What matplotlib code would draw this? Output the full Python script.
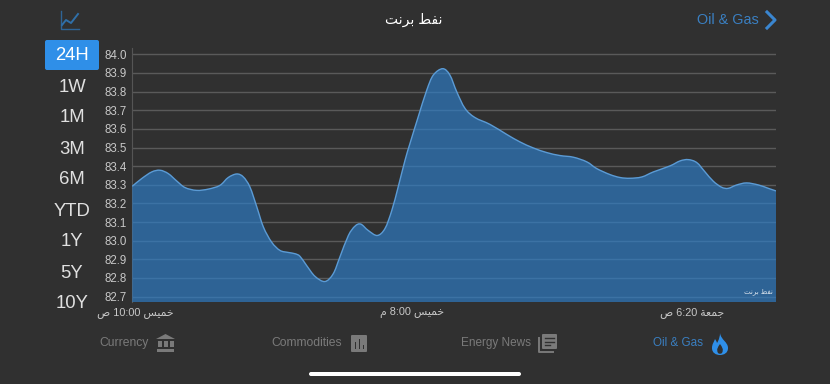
import matplotlib
matplotlib.use('Agg')
import matplotlib.pyplot as plt
from matplotlib.patches import FancyBboxPatch, PathPatch, Polygon, Rectangle
from matplotlib.path import Path

FONT = ['Liberation Sans', 'DejaVu Sans']
plt.rcParams['font.family'] = FONT

# Arabic is kept in shaped presentation forms, in visual order (matplotlib has no shaping)
title = '\ufe96\ufee7\ufeae\ufe91 \ufec2\ufed4\ufee7'
khamis = '\ufeb2\ufef4\ufee4\ufea7'
jumaa = '\ufe94\ufecc\ufee4\ufe9f'
sad = '\ufeb9'
mim = '\ufee1'

# hours since Thursday 10:00
hours = [-0.10, 0.24, 0.61, 0.91, 1.21, 1.52, 1.82, 2.24, 2.67, 3.09, 3.39, 3.70, 3.94, 4.18,
         4.43, 4.67, 4.97, 5.27, 5.57, 5.82, 6.00, 6.24, 6.55, 6.91, 7.21, 7.45, 7.76, 8.00,
         8.21, 8.48, 8.81, 9.09, 9.34, 9.57, 9.82, 10.00, 10.30, 10.61, 10.85, 11.19, 11.45,
         11.70, 12.00, 12.36, 12.91, 13.52, 14.00, 14.48, 14.97, 15.45, 15.94, 16.43, 16.79,
         17.27, 17.64, 18.00, 18.43, 18.85, 19.45, 19.82, 20.12, 20.43, 20.73, 21.03, 21.33,
         21.57, 21.88, 22.24, 22.67, 23.03, 23.31]
prices = [83.292, 83.333, 83.369, 83.378, 83.360, 83.320, 83.285, 83.270, 83.277, 83.297,
          83.339, 83.358, 83.342, 83.288, 83.181, 83.073, 82.992, 82.948, 82.937, 82.930,
          82.916, 82.867, 82.808, 82.781, 82.823, 82.912, 83.028, 83.078, 83.089, 83.055,
          83.028, 83.065, 83.163, 83.288, 83.432, 83.522, 83.665, 83.808, 83.889, 83.923,
          83.889, 83.799, 83.710, 83.661, 83.624, 83.570, 83.530, 83.498, 83.473, 83.457,
          83.448, 83.423, 83.387, 83.355, 83.339, 83.335, 83.342, 83.369, 83.401, 83.428,
          83.435, 83.419, 83.369, 83.319, 83.287, 83.281, 83.299, 83.310, 83.299, 83.281,
          83.267]

y_ticks = [82.7, 82.8, 82.9, 83.0, 83.1, 83.2, 83.3, 83.4, 83.5, 83.6, 83.7, 83.8, 83.9, 84.0]
x_ticks = [0, 10.07, 20.25]
x_labels = [sad + ' 10:00 ' + khamis, mim + ' 8:00 ' + khamis, sad + ' 6:20 ' + jumaa]
ranges = ['24H', '1W', '1M', '3M', '6M', 'YTD', '1Y', '5Y', '10Y']
tabs = ['Currency', 'Commodities', 'Energy News', 'Oil & Gas']

BG = '#303030'
W, H = 830, 384
Y_BOTTOM = 82.671


def smooth_segments(xs, ys):
    # bezier control points through the read points, the app draws a spline here
    verts = []
    n = len(xs)
    for i in range(n - 1):
        a, b = max(i - 1, 0), min(i + 2, n - 1)
        verts.append((xs[i] + (xs[i + 1] - xs[a]) / 6, ys[i] + (ys[i + 1] - ys[a]) / 6))
        verts.append((xs[i + 1] - (xs[b] - xs[i]) / 6, ys[i + 1] - (ys[b] - ys[i]) / 6))
        verts.append((xs[i + 1], ys[i + 1]))
    return verts


fig = plt.figure(figsize=(8.3, 3.84), dpi=100, facecolor=BG)

# main chart
ax = fig.add_axes([132 / W, 1 - 302 / H, (776 - 132) / W, (302 - 48) / H], facecolor=BG)
curve = smooth_segments(hours, prices)
line_path = Path([(hours[0], prices[0])] + curve, [Path.MOVETO] + [Path.CURVE4] * len(curve))
fill_path = Path([(hours[0], Y_BOTTOM), (hours[0], prices[0])] + curve + [(hours[-1], Y_BOTTOM), (hours[0], Y_BOTTOM)],
                 [Path.MOVETO, Path.LINETO] + [Path.CURVE4] * len(curve) + [Path.LINETO, Path.CLOSEPOLY])
ax.add_patch(PathPatch(fill_path, fc='#2d80cd', ec='none', alpha=0.65, zorder=3))
ax.add_patch(PathPatch(line_path, fc='none', ec='#5b9bd5', lw=1, zorder=4))
ax.set_xlim(-0.109, 23.31)
ax.set_ylim(Y_BOTTOM, 84.034)
ax.set_yticks(y_ticks)
ax.set_yticklabels(['%.1f' % v for v in y_ticks])
ax.set_xticks(x_ticks)
ax.set_xticklabels(x_labels)
ax.tick_params(length=0, colors='#c8c8c8', labelsize=8.3, pad=3.6)
ax.tick_params(axis='x', labelsize=7.8)
ax.grid(axis='y', color='#5a5a5a', lw=1, zorder=2)
ax.set_axisbelow(True)
for s in ['top', 'right', 'bottom']:
    ax.spines[s].set_visible(False)
ax.spines['left'].set_color('#555555')
ax.spines['left'].set_linewidth(0.8)
ax.text(0.9955, 0.025, title, transform=ax.transAxes, ha='right', va='bottom',
        color='#d8e2ec', fontsize=5, zorder=5)

# everything around the chart, in pixels
ui = fig.add_axes([0, 0, 1, 1], zorder=-1)
ui.set_xlim(0, W)
ui.set_ylim(H, 0)
ui.axis('off')

ui.text(414, 20, title, color='white', fontsize=10, ha='center', va='center')
ui.text(759, 20.5, 'Oil & Gas', color='#3a7fc1', fontsize=10.4, ha='right', va='center')
ui.plot([767, 775, 767], [12, 20, 28], color='#3a86d0', lw=2.2)

# line chart icon
ui.plot([61, 61, 79], [11, 29, 29], color='#2f6496', lw=1)
ui.plot([62, 66, 71, 78], [25, 20, 23, 14], color='#2f6fa8', lw=1.4)

# range buttons
ui.add_patch(FancyBboxPatch((45, 40), 54, 30, boxstyle='round,pad=0,rounding_size=2',
                            fc='#2f8fe8', ec='none'))
for i, r in enumerate(ranges):
    ui.text(72, 56 + i * 31, r, color='white' if i == 0 else '#e0e0e0', fontsize=13.3,
            ha='center', va='center')

# bottom tabs
GRAY = '#7a7a7a'
ui.text(149, 343, tabs[0], color=GRAY, fontsize=8.7, ha='right', va='center')
ui.text(342, 343, tabs[1], color=GRAY, fontsize=8.7, ha='right', va='center')
ui.text(531, 343, tabs[2], color=GRAY, fontsize=8.5, ha='right', va='center')
ui.text(703, 343, tabs[3], color='#3a7fc1', fontsize=8.4, ha='right', va='center')

# bank icon
ui.add_patch(Polygon([[156, 339], [165.5, 334], [175, 339]], fc=GRAY, ec='none'))
for bx in [158, 164, 170]:
    ui.add_patch(Rectangle((bx, 341), 3.5, 6, fc=GRAY, ec='none'))
ui.add_patch(Rectangle((157, 349), 17, 3, fc=GRAY, ec='none'))

# bars icon
ui.add_patch(FancyBboxPatch((351, 335), 16, 17, boxstyle='round,pad=0,rounding_size=1',
                            fc=GRAY, ec='none'))
for bx, top in [(354.5, 342), (358.5, 338.5), (362.5, 345)]:
    ui.add_patch(Rectangle((bx, top), 1.6, 349 - top, fc=BG, ec='none'))

# news icon
ui.plot([539, 539, 553], [338, 352, 352], color=GRAY, lw=1.4)
ui.add_patch(FancyBboxPatch((542, 334), 15, 15, boxstyle='round,pad=0,rounding_size=1',
                            fc=GRAY, ec='none'))
for ly, x1 in [(338, 554), (341.5, 554), (345, 550)]:
    ui.plot([545, x1], [ly, ly], color=BG, lw=1)

# flame icon
flame = Path([(720, 333), (721, 340), (728, 342), (728, 348), (728, 353), (724, 355), (720, 355),
              (716, 355), (712, 353), (712, 348), (712, 344), (714, 342), (715, 339), (716, 341),
              (717, 342), (717, 343), (719, 340), (720, 336), (720, 333)],
             [Path.MOVETO] + [Path.CURVE4] * 18)
ui.add_patch(PathPatch(flame, fc='#2f8fe8', ec='none'))
inner = Path([(720, 344), (722, 347), (724, 349), (722, 353), (721, 354), (719, 354), (718, 353),
              (716, 349), (718, 347), (720, 344)],
             [Path.MOVETO] + [Path.CURVE4] * 9)
ui.add_patch(PathPatch(inner, fc=BG, ec='none'))

# home indicator
ui.add_patch(FancyBboxPatch((309, 372), 212, 4, boxstyle='round,pad=0,rounding_size=2',
                            fc='white', ec='none'))

fig.savefig('out.png', dpi=100, facecolor=BG)
